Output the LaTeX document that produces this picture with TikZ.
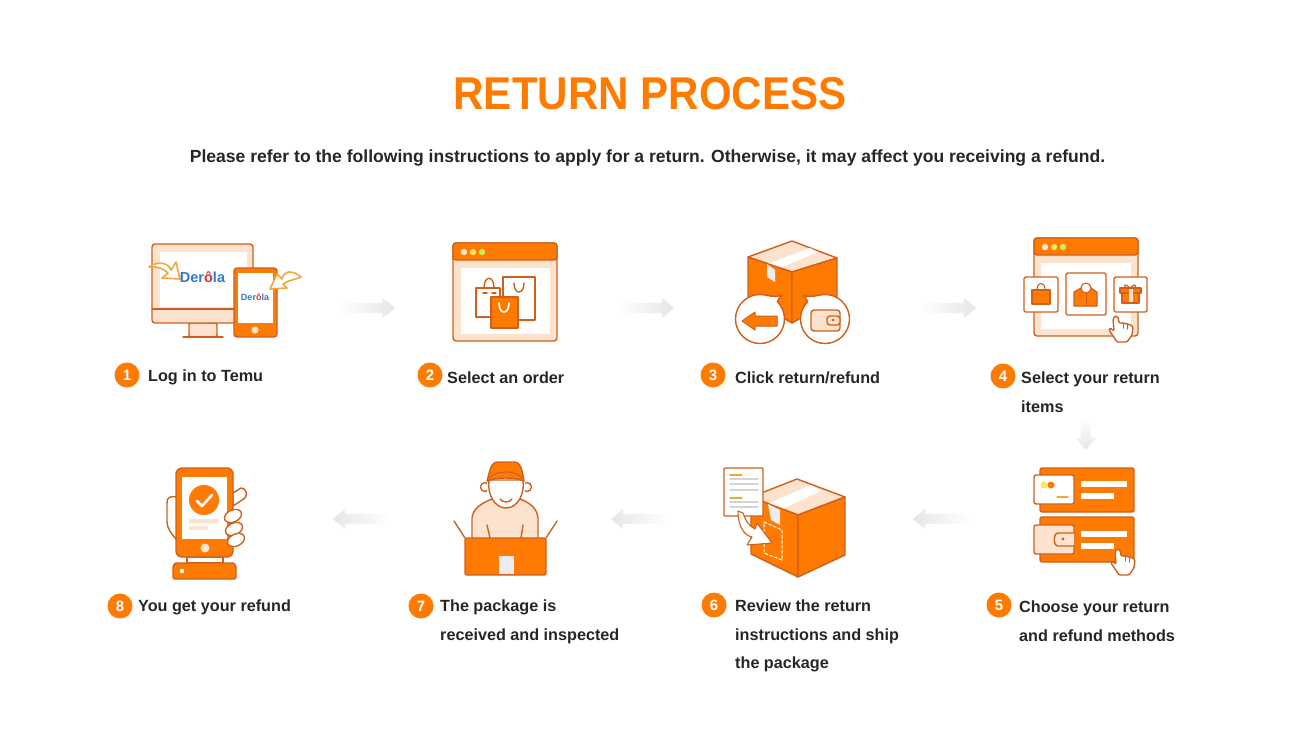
\documentclass[tikz,border=0pt]{standalone}
\usepackage{fontspec}
\setmainfont{Liberation Sans}
\newfontfamily\titlefont[FakeStretch=0.915]{Liberation Sans}
\usetikzlibrary{shapes.arrows}
\definecolor{orfill}{HTML}{FF7A00}
\definecolor{ordeep}{HTML}{CF5F1C}
\definecolor{orpale}{HTML}{FDE3CE}
\definecolor{swirl}{HTML}{F2A63C}
\definecolor{inkdark}{HTML}{262626}
\definecolor{fadegray}{HTML}{E6E6E6}
\definecolor{logoblue}{HTML}{2F7BCB}
\definecolor{logored}{HTML}{D8352A}
\definecolor{linegray}{HTML}{D5D5D8}
\definecolor{labelgray}{HTML}{ECECF2}
\definecolor{dotyellow}{HTML}{FFE45C}
\definecolor{dotgreen}{HTML}{C6EF5A}
\tikzset{
  lnbox/.style={draw=ordeep,line width=1.4pt},
  orbox/.style={lnbox,fill=orfill},
  palebox/.style={lnbox,fill=orpale},
  whitebox/.style={lnbox,fill=white},
  swirlbox/.style={draw=swirl,line width=1.6pt,fill=white},
  badge/.style={circle,fill=orfill,text=white,inner sep=0pt,minimum size=25pt,font=\bfseries\fontsize{15}{15}\selectfont},
  steptxt/.style={anchor=north west,inner sep=0pt,align=left,text=inkdark,font=\bfseries\fontsize{16.2}{28.5}\selectfont},
  fadearrow/.style={single arrow,minimum height=58pt,single arrow head extend=5pt,single arrow head indent=0pt,single arrow tip angle=80,inner sep=5pt},
  handicon/.pic={
    \draw[lnbox,fill=white,rounded corners=1.2pt] (-2,2)--(0,-1)--(3,0)--(4,6)--(8,6)--(12,7)--(16,8)--(18,10)--(17,18)--(12,25)--(2,25)--(-2,19)--(-6,13)--(-5,11)--(-1,14)--cycle;
    \draw[draw=ordeep,line width=1pt] (8,6)--(8,11) (12,7)--(12,12);
  }
}
\begin{document}
\begin{tikzpicture}[x=1pt,y=-1pt,line join=round,line cap=round]
\useasboundingbox (0,0) rectangle (1300,737);
\node[text=orfill,font=\titlefont\bfseries\fontsize{46}{46}\selectfont] (title) at (650,94) {RETURN PROCESS};
\node[text=inkdark,font=\bfseries\fontsize{17.55}{20}\selectfont] (subtitle) at (647.5,158) {Please refer to the following instructions to apply for a return. Otherwise, it may affect you receiving a refund.};
% badges and labels
\foreach \n/\bx/\by/\tx/\ty/\txt in {
  1/127/375/148/369.8/{Log in to Temu},
  2/430/375/447/371.8/{Select an order},
  3/713/375/735/371.8/{Click return/refund},
  4/1003/376/1021/371.8/{Select your return\\items},
  5/999/605/1019/600.8/{Choose your return\\and refund methods},
  6/714/605/735/599.8/{Review the return\\instructions and ship\\the package},
  7/421/606/440/599.8/{The package is\\received and inspected},
  8/120/606/138/599.8/{You get your refund}}{
  \node[badge] (b\n) at (\bx,\by) {\n};
  \node[steptxt] (t\n) at (\tx,\ty) {\txt};
}
% grey arrows
\foreach \n/\x/\y in {12/363/308,23/642/308,34/944/308}
  \node[fadearrow,left color=white,right color=fadegray] (a\n) at (\x,\y) {};
\node[fadearrow,shape border rotate=270,top color=white,bottom color=fadegray,minimum height=32pt] (a45) at (1086,431) {};
\foreach \n/\x/\y in {56/945/519,67/643/519,78/365/519}
  \node[fadearrow,shape border rotate=180,left color=fadegray,right color=white] (a\n) at (\x,\y) {};
% 1 monitor and phone
\draw[palebox,rounded corners=2pt] (189,323) rectangle (217,337);
\draw[lnbox] (183,337)--(223,337);
\draw[palebox,rounded corners=3pt] (152,244) rectangle (253,323);
\fill[white] (160,252) rectangle (247,307);
\draw[lnbox] (152,309)--(253,309);
\draw[swirlbox] (149,267) .. controls (157,261) and (168,262) .. (171,270) -- (176,262) -- (180,279) -- (162,278) -- (168,273) .. controls (163,268) and (156,266) .. cycle;
\node[text=logoblue,font=\bfseries\fontsize{14.5}{15}\selectfont] (logoA) at (202.5,277) {Der{\color{logored}ô}la};
\draw[orbox,rounded corners=3pt] (234,268) rectangle (277,337);
\fill[white] (238,273) rectangle (273,323);
\fill[orpale] (255,330) circle (3.5);
\node[text=logoblue,font=\bfseries\fontsize{9}{10}\selectfont] (logoB) at (255,297) {Der{\color{logored}ô}la};
\draw[swirlbox] (301,277) .. controls (293,270) and (284,270) .. (282,279) -- (277,274) -- (270,289) -- (287,288) -- (283,284) .. controls (288,280) and (295,280) .. cycle;
% 2 window with bags
\draw[palebox,rounded corners=3pt] (453,243) rectangle (557,341);
\fill[white] (461,268) rectangle (550,334);
\draw[orbox,rounded corners=3pt] (453,260)--(453,243)--(557,243)--(557,260)--cycle;
\foreach \x/\c in {464/orpale,473/dotyellow,482/dotgreen}
  \fill[\c] (\x,252) circle (3.2);
\draw[whitebox,line width=1.2pt] (503,277) rectangle (535,320);
\draw[lnbox] (514,283) .. controls (514,295) and (524,295) .. (524,283);
\draw[whitebox,line width=1.2pt] (476,288) rectangle (500,317);
\draw[lnbox] (484,288) .. controls (484,275) and (494,275) .. (494,288);
\draw[lnbox] (483,293)--(487,293) (492,293)--(496,293);
\draw[orbox] (491,297) rectangle (518,328);
\draw[white,line width=1.6pt] (499,303) .. controls (499,315) and (509,315) .. (509,303);
% 3 box and two bubbles
\draw[palebox] (748,257)--(792,241)--(837,258)--(792,272)--cycle;
\fill[white] (767,264)--(810,248)--(818,252)--(775,270)--cycle;
\draw[orbox] (748,257)--(792,272)--(792,323)--(748,297)--cycle;
\draw[orbox] (792,272)--(837,258)--(837,297)--(792,323)--cycle;
\fill[labelgray] (767,264)--(775,270)--(775,282)--(767,277)--cycle;
\draw[whitebox] (760,319) ++(-45:24.5) arc[start angle=-45,end angle=285,radius=24.5] .. controls (772,296.5) and (778,297) .. (782,295) .. controls (780,297) and (778.5,299) .. cycle;
\draw[whitebox] (825,319) ++(225:24.5) arc[start angle=225,end angle=-105,radius=24.5] .. controls (813,296.5) and (807,297) .. (803,295) .. controls (805,297) and (806.5,299) .. cycle;
\draw[orbox,line width=1pt] (742,321)--(755,312)--(755,316)--(777,316)--(777,326)--(755,326)--(755,330)--cycle;
\draw[palebox,rounded corners=3pt] (811,310) rectangle (840,331);
\draw[palebox,rounded corners=3pt] (827,316) rectangle (840,325);
\fill[ordeep] (833,320) circle (1.5);
% 4 window with three cards
\draw[palebox,rounded corners=3pt] (1034,238) rectangle (1138,336);
\fill[white] (1041,263) rectangle (1131,329);
\draw[orbox,rounded corners=3pt] (1034,255)--(1034,238)--(1138,238)--(1138,255)--cycle;
\foreach \x/\c in {1045/orpale,1054/dotyellow,1063/dotgreen}
  \fill[\c] (\x,247) circle (3.2);
\draw[whitebox,rounded corners=1.5pt] (1024,277) rectangle (1058,312);
\draw[whitebox,rounded corners=1.5pt] (1066,273) rectangle (1106,315);
\draw[whitebox,rounded corners=1.5pt] (1114,277) rectangle (1147,312);
\draw[lnbox,line width=1.1pt] (1037,290) .. controls (1037,281) and (1045,281) .. (1045,290);
\draw[orbox,line width=1.1pt] (1032,290) rectangle (1050,304);
\draw[orbox,line width=1.1pt] (1074,292)--(1081,288)--(1091,288)--(1097,292)--(1097,306)--(1074,306)--cycle;
\draw[lnbox,line width=1pt] (1086,293)--(1086,306);
\draw[whitebox,line width=1.1pt] (1086,288) circle (5);
\draw[lnbox,line width=1.1pt] (1130,288) .. controls (1124,281) and (1121,288) .. (1130,288) .. controls (1139,288) and (1136,281) .. (1130,288);
\draw[orbox,line width=1.1pt] (1122,293) rectangle (1139,303);
\draw[orbox,line width=1.1pt] (1120,288) rectangle (1141,293);
\fill[orpale] (1128.5,289) rectangle (1132.5,302);
\pic at (1115,317) {handicon};
% 5 card and wallet
\draw[orbox,rounded corners=2pt] (1040,468) rectangle (1134,512);
\draw[orbox,rounded corners=2pt] (1040,517) rectangle (1134,562);
\draw[whitebox,rounded corners=2pt] (1034,475) rectangle (1074,504);
\fill[dotyellow] (1044,485) circle (3.5);
\fill[orfill] (1051,485) circle (3.5);
\draw[draw=swirl,line width=1.2pt] (1057,497)--(1068,497);
\draw[palebox,rounded corners=2pt] (1034,525) rectangle (1074,554);
\draw[palebox,rounded corners=3pt] (1074,533)--(1061,533) .. controls (1053,533) and (1053,546) .. (1061,546)--(1074,546);
\fill[ordeep] (1063,539) circle (1.6);
\foreach \y in {481,531}{
  \fill[white] (1081,\y) rectangle (1127,\y+6);
  \fill[white] (1081,\y+12) rectangle (1114,\y+18);
}
\pic at (1117,550) {handicon};
% 6 box with sheet
\draw[palebox] (751,497)--(797,479)--(845,497)--(798,515)--cycle;
\fill[white] (768,504)--(811,485)--(821,491)--(780,510)--cycle;
\draw[orbox] (751,497)--(798,515)--(798,577)--(751,554)--cycle;
\draw[orbox] (798,515)--(845,497)--(845,555)--(798,577)--cycle;
\fill[labelgray] (768,504)--(780,510)--(780,525)--(771,520)--cycle;
\draw[white,line width=1pt,dash pattern=on 3pt off 2pt] (764,522)--(782,530)--(782,560)--(764,553)--cycle;
\draw[whitebox,rounded corners=1pt] (724,468) rectangle (763,516);
\foreach \y in {475,498} \draw[draw=swirl,line width=1.4pt] (730,\y)--(742,\y);
\foreach \y in {479,484,490,502,507} \draw[draw=linegray,line width=1.2pt] (730,\y)--(758,\y);
\draw[whitebox,line width=1.1pt] (738,511) .. controls (738,525) and (743,535) .. (752,537) -- (747,545) -- (772,543) -- (757,523) -- (755,529) .. controls (749,526) and (745,520) .. (743,513) -- cycle;
% 7 person with open box
\draw[palebox] (472,540)--(472,518) .. controls (473,508) and (482,503) .. (492,499)--(520,499) .. controls (530,503) and (537,508) .. (538,518)--(538,540)--cycle;
\draw[lnbox] (487,525)--(490,538) (523,525)--(521,538);
\draw[whitebox] (485,487) circle (4.5);
\draw[whitebox] (527,487) circle (4.5);
\draw[whitebox,draw=none] (487,478) rectangle (525,492);
\draw[whitebox] (489,480) .. controls (487,495) and (495,508) .. (506,508) .. controls (517,508) and (525,495) .. (523,480) -- cycle;
\draw[lnbox] (500,499) .. controls (503,503) and (509,503) .. (512,499);
\draw[orbox] (487,481) .. controls (490,470) and (491,462) .. (498,462)--(514,462) .. controls (521,462) and (522,470) .. (524,481) .. controls (515,477) and (496,477) .. cycle;
\draw[lnbox,line width=1.1pt] (489,478) .. controls (495,470) and (516,470) .. (522,478);
\draw[lnbox] (465,538)--(454,521) (546,538)--(557,521);
\draw[orbox,rounded corners=2pt] (465,538) rectangle (546,575);
\fill[labelgray] (499,556) rectangle (514,574);
% 8 phone in hand
\draw[whitebox] (177,497) .. controls (170,496) and (167,497) .. (167,503)--(167,522) .. controls (167,528) and (172,535) .. (177,540)--cycle;
\draw[whitebox] (233,493)--(241,488) .. controls (246,488) and (248,494) .. (245,498)--(233,506)--cycle;
\draw[whitebox] (187,557) rectangle (223,563);
\draw[orbox,rounded corners=6pt] (176,468) rectangle (233,557);
\fill[white] (182,477) rectangle (227,539);
\fill[orfill] (204,500) circle (15);
\draw[white,line width=2.6pt] (197,501)--(202,506)--(212,495);
\fill[orpale] (189,519) rectangle (219,523);
\fill[orpale] (189,526) rectangle (208,530);
\fill[orpale] (205,548) circle (4.5);
\draw[orbox,rounded corners=2pt] (173,579)--(173,569) .. controls (173,565) and (175,563) .. (178,563)--(231,563) .. controls (234,563) and (236,565) .. (236,569)--(236,579)--cycle;
\fill[white] (182,571) circle (2.3);
\foreach \x/\y in {233/516,234/529,236/540}
  \draw[whitebox] (\x,\y) ellipse[x radius=9,y radius=6,rotate=25];
\end{tikzpicture}
\end{document}
